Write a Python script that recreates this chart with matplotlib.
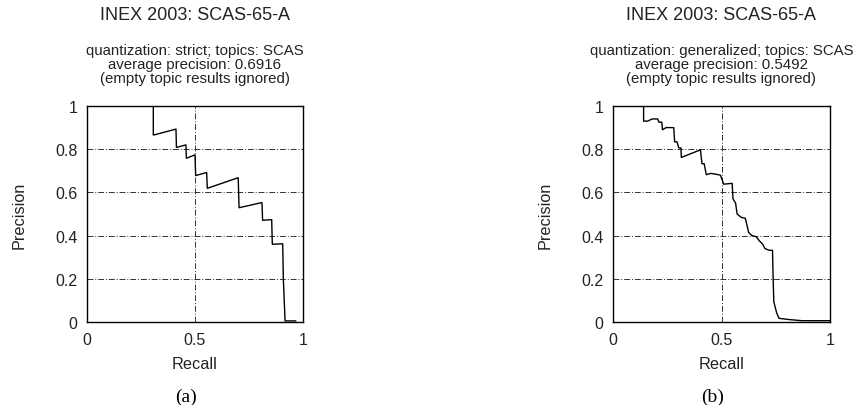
import matplotlib.pyplot as plt

# Recall / precision points: strict quantization
recall_strict = [0.307, 0.307, 0.31, 0.412, 0.414, 0.458, 0.46, 0.50, 0.503, 0.554,
                 0.557, 0.70, 0.704, 0.81, 0.813, 0.855, 0.858, 0.906, 0.909, 0.917, 0.966]
precision_strict = [1.0, 0.866, 0.866, 0.893, 0.808, 0.82, 0.758, 0.774, 0.678, 0.692,
                    0.619, 0.668, 0.529, 0.553, 0.471, 0.474, 0.36, 0.362, 0.20, 0.005, 0.005]

# Panel (b): generalized quantization
recall_gen = [0.141, 0.141, 0.16, 0.18, 0.206, 0.212, 0.225, 0.228, 0.245, 0.265, 0.28,
              0.284, 0.295, 0.303, 0.313, 0.315, 0.403, 0.41, 0.42, 0.43, 0.45, 0.47,
              0.495, 0.51, 0.549, 0.553, 0.565, 0.572, 0.59, 0.61, 0.625, 0.64, 0.66,
              0.675, 0.69, 0.70, 0.72, 0.735, 0.738, 0.741, 0.754, 0.765, 0.805, 0.87, 0.997]
precision_gen = [1.0, 0.93, 0.93, 0.94, 0.94, 0.925, 0.925, 0.89, 0.90, 0.90, 0.90,
                 0.834, 0.834, 0.806, 0.806, 0.762, 0.797, 0.733, 0.733, 0.682, 0.688, 0.685,
                 0.68, 0.638, 0.642, 0.57, 0.55, 0.50, 0.485, 0.48, 0.415, 0.40, 0.395,
                 0.375, 0.36, 0.34, 0.332, 0.332, 0.2, 0.094, 0.043, 0.017, 0.012, 0.006, 0.006]

panels = [
    ("quantization: strict; topics: SCAS\naverage precision: 0.6916\n(empty topic results ignored)",
     recall_strict, precision_strict, "(a)"),
    ("quantization: generalized; topics: SCAS\naverage precision: 0.5492\n(empty topic results ignored)",
     recall_gen, precision_gen, "(b)"),
]

W, H = 857, 406
fig = plt.figure(figsize=(W / 100, H / 100), dpi=100)
sans = "Liberation Sans"
ink = "#222222"

# axes boxes in pixels: left, top, right, bottom
boxes = [(87, 107, 303, 323), (613, 107, 830, 323)]

for (sub, rec, prec, tag), (l, t, r, b) in zip(panels, boxes):
    ax = fig.add_axes([l / W, 1 - b / H, (r - l) / W, (b - t) / H])
    ax.plot(rec, prec, color="black", lw=1.0)
    ax.set_xlim(0, 1)
    ax.set_ylim(0, 1)
    ax.set_xticks([0, 0.5, 1])
    ax.set_xticklabels(["0", "0.5", "1"])
    ax.set_yticks([0, 0.2, 0.4, 0.6, 0.8, 1])
    ax.set_yticklabels(["0", "0.2", "0.4", "0.6", "0.8", "1"])
    ax.tick_params(length=0, labelsize=11.5, colors=ink)
    ax.tick_params(axis="x", pad=7)
    ax.tick_params(axis="y", pad=7)
    for lab in ax.get_xticklabels() + ax.get_yticklabels():
        lab.set_family(sans)
    ax.grid(True, color="#333333", lw=0.7, linestyle=(0, (6, 2, 1, 2)))
    for s in ax.spines.values():
        s.set_linewidth(1.0)

    ax.set_xlabel("Recall", fontsize=11.7, family=sans, color=ink, va="center")
    ax.xaxis.set_label_coords(0.5, (b - 365) / (b - t))
    ax.set_ylabel("Precision", fontsize=11.7, family=sans, color=ink, va="center")
    ax.yaxis.set_label_coords(-68 / (r - l), 0.5)

    cx = (l + r) / 2 / W
    fig.text(cx, 1 - 15 / H, "INEX 2003: SCAS-65-A", ha="center", va="center",
             fontsize=13, family=sans, color=ink)
    fig.text(cx, 1 - 65 / H, sub, ha="center", va="center", fontsize=10.8,
             family=sans, linespacing=0.98, color=ink)
    fig.text(cx - 8.5 / W, 1 - 397 / H, tag, ha="center", va="center", fontsize=14,
             family="Liberation Serif")

fig.savefig("out.png", dpi=100)
